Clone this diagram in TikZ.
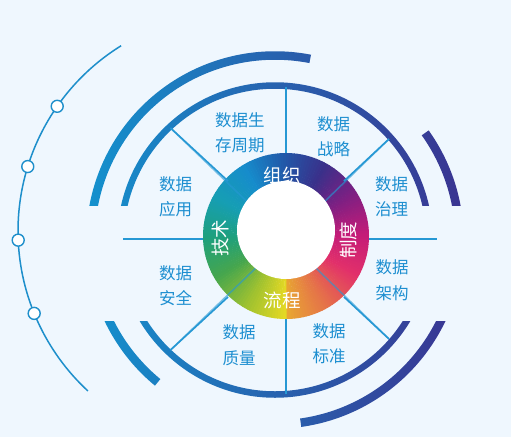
\documentclass[tikz,border=0pt]{standalone}
\usepackage{fontspec}
\newfontfamily\cjk{Noto Sans CJK SC}
\begin{document}
\begin{tikzpicture}[x=1pt,y=1pt]
\definecolor{bg}{RGB}{239,247,254}
\definecolor{spoke}{RGB}{38,152,212}
\definecolor{thinc}{RGB}{30,143,203}
\definecolor{txt}{RGB}{28,142,208}
\definecolor{arcL}{RGB}{20,145,205}
\definecolor{arcR}{RGB}{58,52,145}
\definecolor{k0}{RGB}{232,166,50}
\definecolor{k1}{RGB}{229,112,74}
\definecolor{k2}{RGB}{226,48,106}
\definecolor{k3}{RGB}{196,28,120}
\definecolor{k4}{RGB}{128,31,130}
\definecolor{k5}{RGB}{58,48,138}
\definecolor{k6}{RGB}{34,88,168}
\definecolor{k7}{RGB}{22,140,204}
\definecolor{k8}{RGB}{22,158,180}
\definecolor{k9}{RGB}{30,160,125}
\definecolor{k10}{RGB}{70,166,78}
\definecolor{k11}{RGB}{160,194,48}
\definecolor{k12}{RGB}{232,218,35}
\tikzset{
  spokeline/.style={draw=spoke,line width=1.6pt},
  dotc/.style={circle,draw=thinc,fill=white,line width=1.4pt,minimum size=12pt,inner sep=0pt},
  lbl/.style={font=\cjk\fontsize{16.5}{25.5}\selectfont,text=txt,align=left,anchor=west,inner sep=0pt},
  ringlbl/.style={font=\cjk\fontsize{18.5}{20}\selectfont,text=white,inner sep=0pt}
}
% background
\fill[bg] (0,0) rectangle (511,-437);
\useasboundingbox (0,0) rectangle (511,-437);

% thin outer arc with dots
\draw[thinc,line width=1.5pt] (236,-231) ++(121.8:218) arc[start angle=121.8,end angle=227.2,radius=218];
\node[dotc] (d1) at ([shift={(236,-231)}]145.1:218) {};
\node[dotc] (d2) at ([shift={(236,-231)}]162.8:218) {};
\node[dotc] (d3) at ([shift={(236,-231)}]182.4:218) {};
\node[dotc] (d4) at ([shift={(236,-231)}]202.2:218) {};

% thick arcs, upper
\begin{scope}
\clip (0,-205) rectangle (511,0);
\clip[shift={(275,-240)}]
  (0:157.75) arc[start angle=0,end angle=180,radius=157.75] -- (180:151.25) arc[start angle=180,end angle=0,radius=151.25] -- cycle
  (79:188.75) arc[start angle=79,end angle=180,radius=188.75] -- (180:180.25) arc[start angle=180,end angle=79,radius=180.25] -- cycle
  (0:188.75) arc[start angle=0,end angle=35.5,radius=188.75] -- (35.5:180.25) arc[start angle=35.5,end angle=0,radius=180.25] -- cycle;
\shade[left color=arcL,right color=arcR] (88,0) rectangle (462,-437);
\end{scope}
% thick arcs, lower
\begin{scope}
\clip (0,-321.5) rectangle (511,-437);
\clip[shift={(275,-240)}]
  (180:157.75) arc[start angle=180,end angle=360,radius=157.75] -- (360:151.25) arc[start angle=360,end angle=180,radius=151.25] -- cycle
  (180:188.75) arc[start angle=180,end angle=230.5,radius=188.75] -- (230.5:180.25) arc[start angle=230.5,end angle=180,radius=180.25] -- cycle
  (278:188.75) arc[start angle=278,end angle=360,radius=188.75] -- (360:180.25) arc[start angle=360,end angle=278,radius=180.25] -- cycle;
\shade[left color=arcL,right color=arcR] (88,0) rectangle (462,-437);
\end{scope}

% spokes
\coordinate (S) at (286,-239);
\coordinate (eT) at (286,-87);
\coordinate (eB) at (286,-394);
\coordinate (eL) at (123,-239);
\coordinate (eR) at (437,-239);
\coordinate (eUL) at (170.5,-128);
\coordinate (eUR) at (389,-139);
\coordinate (eLL) at (170.5,-350);
\coordinate (eLR) at (389,-339);
\draw[spokeline] (S) -- (eT);
\draw[spokeline] (S) -- (eB);
\draw[spokeline] (S) -- (eL);
\draw[spokeline] (S) -- (eR);

% ring with conic gradient
\coordinate (C) at (286,-236);
\foreach \a/\ca/\cb in {-90/k0/k1,-60/k1/k2,-30/k2/k3,0/k3/k4,30/k4/k5,60/k5/k6,90/k6/k7,120/k7/k8,150/k8/k9,180/k9/k10,210/k10/k11,240/k11/k12}{
  \foreach \i in {0,...,14}{
    \pgfmathtruncatemacro\t{\i*100/15}
    \pgfmathsetmacro\s{\a+\i*2}
    \pgfmathsetmacro\e{\s+2.4}
    \fill[\cb!\t!\ca] (C) -- ++(\s:83) arc[start angle=\s,end angle=\e,radius=83] -- cycle;
  }
}
% diagonal spokes over the ring
\draw[spokeline,opacity=0.6] (S) -- (eUL);
\draw[spokeline,opacity=0.6] (S) -- (eUR);
\draw[spokeline,opacity=0.6] (S) -- (eLL);
\draw[spokeline,opacity=0.6] (S) -- (eLR);
\draw[spokeline] ([shift={(286,-239)}]135:82) -- (eUL);
\draw[spokeline] ([shift={(286,-239)}]45:82) -- (eUR);
\draw[spokeline] ([shift={(286,-239)}]225:82) -- (eLL);
\draw[spokeline] ([shift={(286,-239)}]315:82) -- (eLR);
% white centre
\fill[white] (286,-230) circle (49);

% ring labels
\node[ringlbl] (org) at (282,-175) {组织};
\node[ringlbl] (proc) at (282,-300) {流程};
\node[ringlbl,rotate=90] (tech) at (220,-238) {技术};
\node[ringlbl,rotate=90] (inst) at (348,-240) {制度};

% outer labels
\node[lbl] (l1) at (215,-133) {数据生\\存周期};
\node[lbl] (l2) at (317,-136.8) {数据\\战略};
\node[lbl] (l3) at (375,-196.5) {数据\\治理};
\node[lbl] (l4) at (159,-197) {数据\\应用};
\node[lbl] (l5) at (159,-285.5) {数据\\安全};
\node[lbl] (l6) at (375.5,-280.3) {数据\\架构};
\node[lbl] (l7) at (222.5,-345) {数据\\质量};
\node[lbl] (l8) at (312.3,-343.8) {数据\\标准};
\end{tikzpicture}
\end{document}
